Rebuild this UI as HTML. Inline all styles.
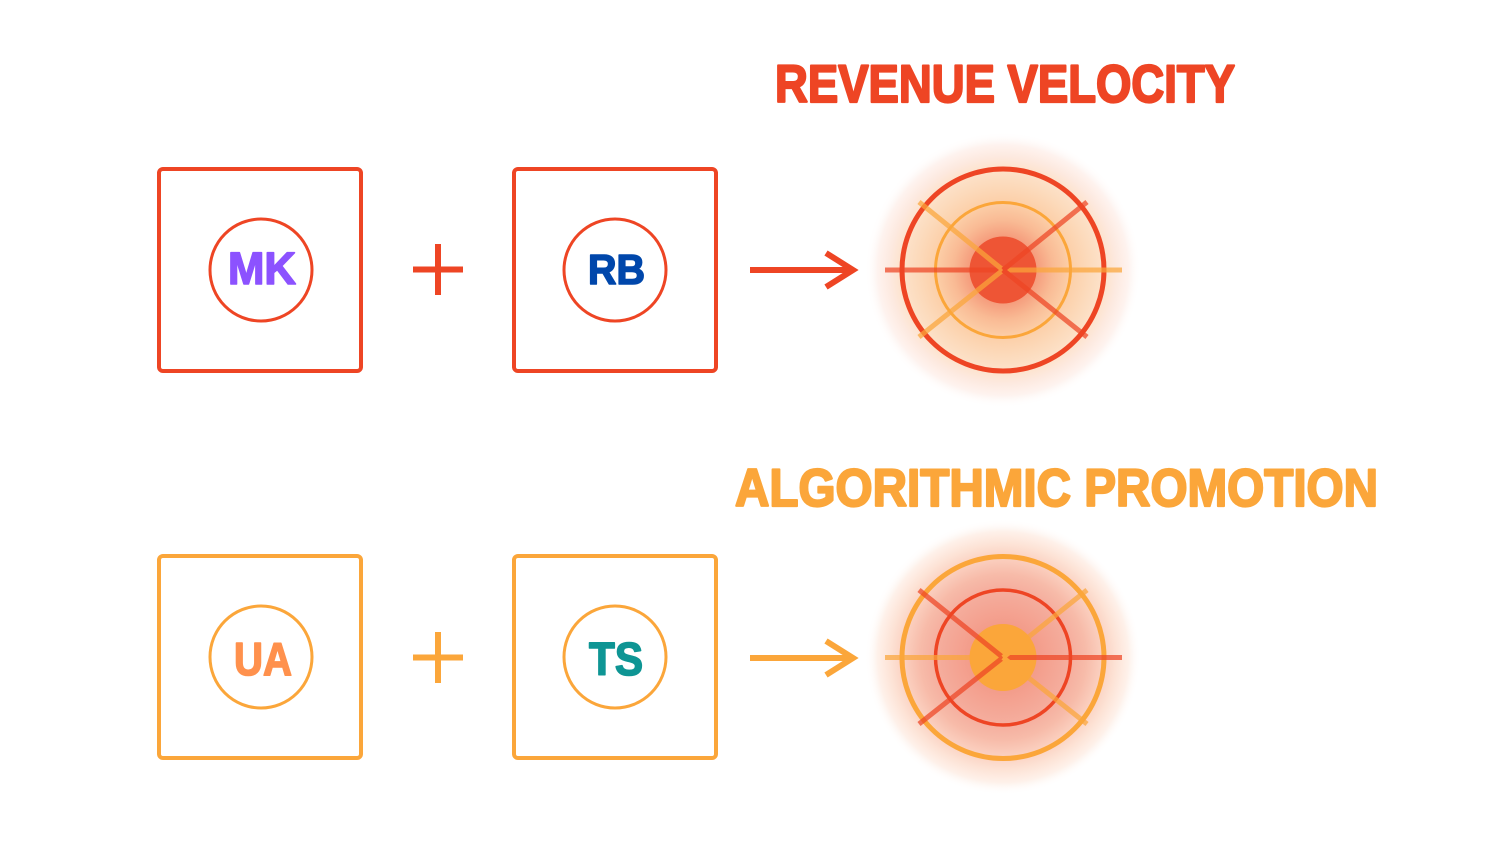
<!DOCTYPE html>
<html>
<head>
<meta charset="utf-8">
<style>
  html,body{margin:0;padding:0;background:#ffffff;}
  svg{display:block;}
  .title{font-family:"Liberation Sans Narrow","Liberation Sans",sans-serif;font-weight:bold;}
  .lbl{font-family:"Liberation Sans",sans-serif;font-weight:bold;}
</style>
</head>
<body>
<svg width="1500" height="843" viewBox="0 0 1500 843" xmlns="http://www.w3.org/2000/svg">
  <defs>
    <radialGradient id="g1" cx="1003" cy="270" r="138" gradientUnits="userSpaceOnUse">
      <stop offset="0" stop-color="#ef6444"/>
      <stop offset="0.24" stop-color="#f59c7c"/>
      <stop offset="0.36" stop-color="#f9ba94"/>
      <stop offset="0.49" stop-color="#fccfa8"/>
      <stop offset="0.62" stop-color="#fcdabb"/>
      <stop offset="0.73" stop-color="#fde2ca"/>
      <stop offset="0.82" stop-color="#fde9df"/>
      <stop offset="0.91" stop-color="#fef3ef"/>
      <stop offset="1" stop-color="#ffffff" stop-opacity="0"/>
    </radialGradient>
    <radialGradient id="g2" cx="1003" cy="657" r="138" gradientUnits="userSpaceOnUse">
      <stop offset="0" stop-color="#f08c78"/>
      <stop offset="0.24" stop-color="#f39c8a"/>
      <stop offset="0.49" stop-color="#f5ae9e"/>
      <stop offset="0.6" stop-color="#f7bba9"/>
      <stop offset="0.73" stop-color="#fbd2c2"/>
      <stop offset="0.82" stop-color="#fde3d6"/>
      <stop offset="0.91" stop-color="#fef1ea"/>
      <stop offset="1" stop-color="#ffffff" stop-opacity="0"/>
    </radialGradient>
  </defs>

  <!-- Titles -->
  <text class="title" x="775" y="102" font-size="53" fill="#ee4524" stroke="#ee4524" stroke-width="2.2" stroke-linejoin="round" textLength="460" lengthAdjust="spacingAndGlyphs">REVENUE VELOCITY</text>
  <text class="title" x="735" y="506" font-size="53" fill="#fba63a" stroke="#fba63a" stroke-width="2.2" stroke-linejoin="round" textLength="643" lengthAdjust="spacingAndGlyphs">ALGORITHMIC PROMOTION</text>

  <!-- Row 1 -->
  <rect x="159" y="169" width="202" height="202" rx="4" fill="none" stroke="#ee4524" stroke-width="4"/>
  <circle cx="261" cy="270" r="51" fill="none" stroke="#ee4524" stroke-width="3"/>
  <text class="lbl" x="228" y="284" font-size="45" fill="#8c52ff" stroke="#8c52ff" stroke-width="1.6" stroke-linejoin="round" textLength="68" lengthAdjust="spacingAndGlyphs">MK</text>

  <rect x="413" y="266.5" width="50" height="6" fill="#ee4524"/>
  <rect x="435" y="244" width="6" height="51" fill="#ee4524"/>

  <rect x="514" y="169" width="202" height="202" rx="4" fill="none" stroke="#ee4524" stroke-width="4"/>
  <circle cx="615" cy="270" r="51" fill="none" stroke="#ee4524" stroke-width="3"/>
  <text class="lbl" x="588" y="284" font-size="42" fill="#0047ab" stroke="#0047ab" stroke-width="1.6" stroke-linejoin="round" textLength="57" lengthAdjust="spacingAndGlyphs">RB</text>

  <line x1="750" y1="270" x2="852" y2="270" stroke="#ee4524" stroke-width="6"/>
  <polyline points="826,253 853,270 826,287" fill="none" stroke="#ee4524" stroke-width="6"/>

  <!-- Target 1 -->
  <circle cx="1003" cy="270" r="138" fill="url(#g1)"/>
  <circle cx="1003" cy="270" r="33.5" fill="#ee5535"/>
  <circle cx="1003" cy="270" r="67.5" fill="none" stroke="#fba63a" stroke-width="3"/>
  <circle cx="1003" cy="270" r="101" fill="none" stroke="#ee4524" stroke-width="5"/>
  <g stroke-width="5" opacity="0.72">
    <line x1="885" y1="270" x2="1003" y2="270" stroke="#ee4524"/>
    <line x1="1003" y1="270" x2="1122" y2="270" stroke="#fba63a"/>
    <line x1="919" y1="202" x2="1003" y2="270" stroke="#fba63a"/>
    <line x1="919" y1="337" x2="1003" y2="270" stroke="#fba63a"/>
    <line x1="1087" y1="202" x2="1003" y2="270" stroke="#ee4524"/>
    <line x1="1087" y1="337" x2="1003" y2="270" stroke="#ee4524"/>
  </g>

  <!-- Row 2 -->
  <rect x="159" y="556" width="202" height="202" rx="4" fill="none" stroke="#fba63a" stroke-width="4"/>
  <circle cx="261" cy="657" r="51" fill="none" stroke="#fba63a" stroke-width="3"/>
  <text class="lbl" x="234" y="675" font-size="46" fill="#ff914d" stroke="#ff914d" stroke-width="1.6" stroke-linejoin="round" textLength="58" lengthAdjust="spacingAndGlyphs">UA</text>

  <rect x="413" y="654.5" width="50" height="6" fill="#fba63a"/>
  <rect x="435" y="632" width="6" height="51" fill="#fba63a"/>

  <rect x="514" y="556" width="202" height="202" rx="4" fill="none" stroke="#fba63a" stroke-width="4"/>
  <circle cx="615" cy="657" r="51" fill="none" stroke="#fba63a" stroke-width="3"/>
  <text class="lbl" x="589" y="675" font-size="46" fill="#0e9594" stroke="#0e9594" stroke-width="1.6" stroke-linejoin="round" textLength="54" lengthAdjust="spacingAndGlyphs">TS</text>

  <line x1="750" y1="658" x2="852" y2="658" stroke="#fba63a" stroke-width="6"/>
  <polyline points="826,641 853,658 826,675" fill="none" stroke="#fba63a" stroke-width="6"/>

  <!-- Target 2 -->
  <circle cx="1003" cy="657" r="138" fill="url(#g2)"/>
  <circle cx="1003" cy="657.5" r="33.5" fill="#fba63a"/>
  <circle cx="1003" cy="657.5" r="67.5" fill="none" stroke="#ee4524" stroke-width="3.5"/>
  <circle cx="1003" cy="657.5" r="101" fill="none" stroke="#fba63a" stroke-width="5"/>
  <g stroke-width="5" opacity="0.72">
    <line x1="885" y1="657.5" x2="1003" y2="657.5" stroke="#fba63a"/>
    <line x1="1003" y1="657.5" x2="1122" y2="657.5" stroke="#ee4524"/>
    <line x1="919" y1="590" x2="1003" y2="657.5" stroke="#ee4524"/>
    <line x1="919" y1="724" x2="1003" y2="657.5" stroke="#ee4524"/>
    <line x1="1087" y1="590" x2="1003" y2="657.5" stroke="#fba63a"/>
    <line x1="1087" y1="724" x2="1003" y2="657.5" stroke="#fba63a"/>
  </g>
</svg>
</body>
</html>
